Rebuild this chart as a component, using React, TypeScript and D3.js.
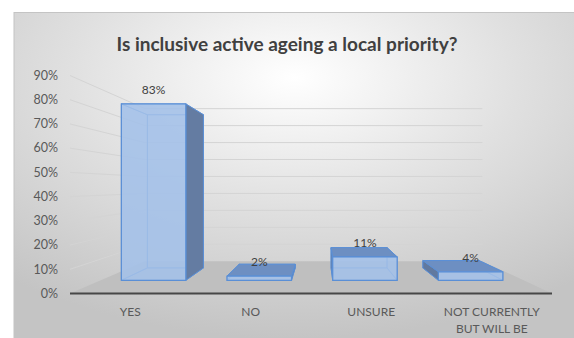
import React from "react";
import * as d3 from "d3";

const categories: string[][] = [["YES"], ["NO"], ["UNSURE"], ["NOT CURRENTLY", "BUT WILL BE"]];
const values: number[] = [0.83, 0.02, 0.11, 0.04];
const valueLabels: string[] = ["83%", "2%", "11%", "4%"];
const yTicks: number[] = [0, 0.1, 0.2, 0.3, 0.4, 0.5, 0.6, 0.7, 0.8, 0.9];
const title = "Is inclusive active ageing a local priority?";

const W = 574;
const H = 338;
const VX = 320;
const VY = 186;
const U_BACK = 0.3;
const U1 = 0.123;
const U2 = 0.238;
const FONT = "Lato, 'Open Sans', sans-serif";

const proj = (x: number, y: number, u: number): [number, number] => [x + u * (VX - x), y + u * (VY - y)];
const pts = (arr: [number, number][]) => arr.map((p) => p.join(",")).join(" ");

export default function App() {
  const y = d3.scaleLinear().domain([0, 0.9]).range([293.5, 75.5]);
  const x = d3
    .scaleBand<string>()
    .domain(categories.map((c) => c.join(" ")))
    .range([70, 552])
    .paddingInner(0.39)
    .paddingOuter(0.195);
  const bw = x.bandwidth();
  const fmt = d3.format(".0%");
  const X0 = 70;
  const X1 = 552;
  const y0 = y(0);

  const floor: [number, number][] = [
    [X0, y0],
    [X1, y0],
    proj(X1, y0, U_BACK),
    proj(X0, y0, U_BACK),
  ];

  return (
    <svg width={W} height={H} style={{ position: "absolute", left: 0, top: 0 }}>
      <defs>
        <radialGradient id="bg" cx="50%" cy="20%" r="80%">
          <stop offset="0%" stopColor="#ffffff" />
          <stop offset="50%" stopColor="#e0e0e0" />
          <stop offset="100%" stopColor="#c4c4c4" />
        </radialGradient>
      </defs>
      <rect x={0} y={0} width={W} height={H} fill="#ffffff" />
      <rect x={14} y={12.5} width={W - 13} height={H - 12} fill="url(#bg)" stroke="#c4c4c4" strokeWidth={1} />
      <text x={287} y={51} textAnchor="middle" fontFamily={FONT} fontSize={19} fontWeight={700} fill="#404040">
        {title}
      </text>

      {/* floor */}
      <polygon points={pts(floor)} fill="#bfbfbf" />

      {/* gridlines: side wall + back wall */}
      {yTicks.filter((t) => t > 0).map((t) => {
        const a = proj(X0, y(t), U_BACK);
        const b = proj(X1, y(t), U_BACK);
        return (
          <g key={t}>
            <line x1={X0} y1={y(t)} x2={a[0]} y2={a[1]} stroke="#d4d4d4" strokeWidth={1} />
            <line x1={a[0]} y1={a[1]} x2={b[0]} y2={b[1]} stroke="#d4d4d4" strokeWidth={1} />
          </g>
        );
      })}

      {/* front axis edge */}
      <line x1={X0} y1={y0} x2={X1} y2={y0} stroke="#474747" strokeWidth={2} />

      {/* y tick labels */}
      {yTicks.map((t) => (
        <text key={t} x={58} y={y(t) + 4.3} textAnchor="end" fontFamily={FONT} fontSize={12.5} fill="#595959">
          {fmt(t)}
        </text>
      ))}

      {/* bars */}
      {values.map((v, i) => {
        const key = categories[i].join(" ");
        const x0 = x(key) as number;
        const x1 = x0 + bw;
        const yT = y(v);
        const yB = y(0);
        const front: [number, number][] = [proj(x0, yT, U1), proj(x1, yT, U1), proj(x1, yB, U1), proj(x0, yB, U1)];
        const back: [number, number][] = [proj(x0, yT, U2), proj(x1, yT, U2), proj(x1, yB, U2), proj(x0, yB, U2)];
        const left: [number, number][] = [front[0], back[0], back[3], front[3]];
        const right: [number, number][] = [front[1], back[1], back[2], front[2]];
        const top: [number, number][] = [front[0], front[1], back[1], back[0]];
        const bottom: [number, number][] = [front[3], front[2], back[2], back[3]];
        const leftVis = x0 > VX;
        const rightVis = x1 < VX;
        const topVis = yT > VY;
        const hidden = [back, bottom];
        if (!leftVis) hidden.push(left);
        if (!rightVis) hidden.push(right);
        if (!topVis) hidden.push(top);
        const edge = "#5a8fd6";
        const lx = (front[0][0] + front[1][0]) / 2;
        const ly = front[0][1] - 10;
        return (
          <g key={key}>
            {hidden.map((f, j) => (
              <polygon key={j} points={pts(f)} fill="#a3c1e9" fillOpacity={0.25} stroke={edge} strokeOpacity={0.7} strokeWidth={1} />
            ))}
            {leftVis && <polygon points={pts(left)} fill="#61799f" stroke={edge} strokeWidth={1} />}
            {rightVis && <polygon points={pts(right)} fill="#647ca2" stroke={edge} strokeWidth={1} />}
            {topVis && <polygon points={pts(top)} fill="#6d8fc2" stroke={edge} strokeWidth={1} />}
            <polygon points={pts(front)} fill="#a3c1e9" fillOpacity={0.85} stroke={edge} strokeWidth={1.2} />
            <text x={lx} y={ly} textAnchor="middle" fontFamily={FONT} fontSize={12} fill="#404040">
              {valueLabels[i]}
            </text>
          </g>
        );
      })}

      {/* category labels */}
      {categories.map((c) => {
        const cx = (x(c.join(" ")) as number) + bw / 2;
        return (
          <text key={c.join(" ")} x={cx} y={315.5} textAnchor="middle" fontFamily={FONT} fontSize={12} fill="#595959">
            {c.map((line, k) => (
              <tspan key={k} x={cx} dy={k === 0 ? 0 : 17}>
                {line}
              </tspan>
            ))}
          </text>
        );
      })}
    </svg>
  );
}
